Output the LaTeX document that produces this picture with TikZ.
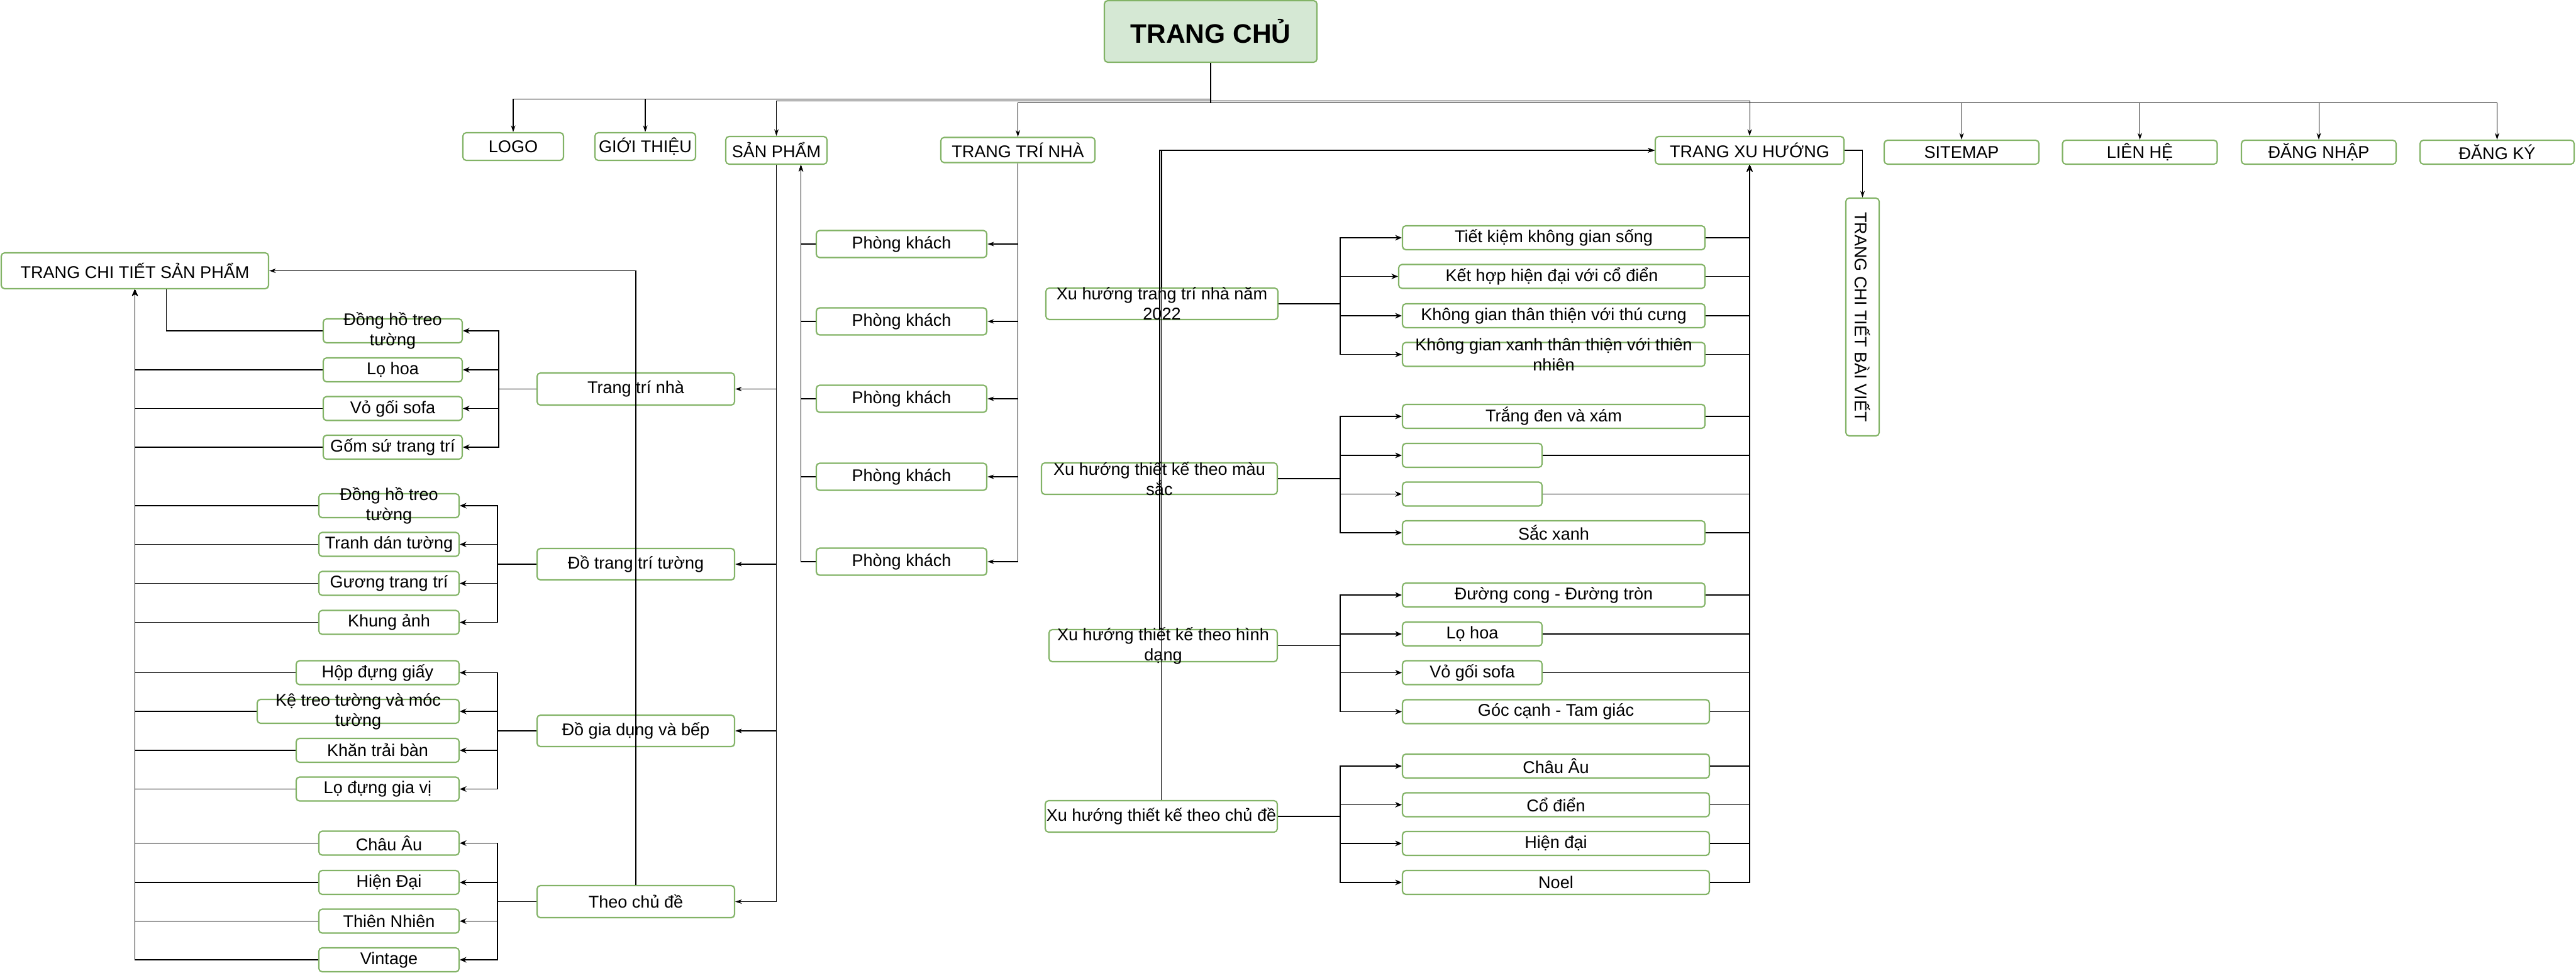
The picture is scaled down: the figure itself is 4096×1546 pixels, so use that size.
\documentclass[tikz,border=0pt]{standalone}
\usepackage{fontspec}
\setmainfont{Liberation Sans}
\usetikzlibrary{arrows.meta}
\definecolor{boxgreen}{HTML}{82B366}
\definecolor{homefill}{HTML}{D5E8D4}

\begin{document}
\begin{tikzpicture}[
		x=0.02cm, y=-0.02cm,
		font=\fontsize{15.4}{18.2}\selectfont,
		pagebox/.style 2 args={rectangle, draw=boxgreen, line width=1.2pt, rounded corners=3pt, fill=white, inner sep=0pt, minimum width=#1*0.02cm, minimum height=#2*0.02cm},
		every label/.append style={align=center},
		link/.style={line width=1.1pt, -{Stealth[length=6pt, width=5pt]}},
		bare_link/.style={line width=1.1pt},
		thin_link/.style={line width=0.6pt, -{Stealth[length=6pt, width=4pt]}}
	]
  \useasboundingbox (0,0) rectangle (4096,1546);
  \node (trang_chu) [pagebox={338}{98}, fill=homefill, font=\fontsize{24.2}{28}\selectfont\bfseries] at (1925,50) {TRANG CHỦ};
  \node (logo) [pagebox={160}{44}] at (816,233) {LOGO};
  \node (gioi_thieu) [pagebox={160}{44}] at (1026,233) {GIỚI THIỆU};
  \node (san_pham) [pagebox={161}{44}] at (1234.5,239) {SẢN PHẨM};
  \node (trang_tri) [pagebox={245}{40}] at (1618.5,238.5) {TRANG TRÍ NHÀ};
  \node (xu_huong) [pagebox={300}{44}] at (2782,239) {TRANG XU HƯỚNG};
  \node (sitemap) [pagebox={246}{38}] at (3119,242) {SITEMAP};
  \node (lien_he) [pagebox={246}{38}] at (3402.5,242) {LIÊN HỆ};
  \node (dang_nhap) [pagebox={246}{38}] at (3687,242) {ĐĂNG NHẬP};
  \node (dang_ky) [pagebox={245}{38}] at (3970.5,242) {ĐĂNG KÝ};
  \node (bai_viet) [pagebox={53}{378}, label={[rotate=-90]center:TRANG CHI TIẾT BÀI VIẾT}] at (2961.5,504) {};
  \node (chi_tiet) [pagebox={425}{57}] at (214.5,430.5) {TRANG CHI TIẾT SẢN PHẨM};

  \node (c_trang_tri) [pagebox={314}{51}] at (1011,618.5) {Trang trí nhà};
  \node (c_tuong) [pagebox={314}{50}] at (1011,897) {Đồ trang trí tường};
  \node (c_gia_dung) [pagebox={314}{50}] at (1011,1162) {Đồ gia dụng và bếp};
  \node (c_chu_de) [pagebox={314}{51}] at (1011,1433.5) {Theo chủ đề};

  \node (i_dong_ho_1) [pagebox={221}{38}, label=center:{Đồng hồ treo\\tường}] at (624.5,526) {};
  \node (i_lo_hoa) [pagebox={221}{38}] at (624.5,588) {Lọ hoa};
  \node (i_vo_goi) [pagebox={221}{38}] at (624.5,649.5) {Vỏ gối sofa};
  \node (i_gom_su) [pagebox={221}{38}] at (624.5,711) {Gốm sứ trang trí};
  \node (i_dong_ho_2) [pagebox={223}{38}, label=center:{Đồng hồ treo\\tường}] at (618.5,804) {};
  \node (i_tranh) [pagebox={223}{38}] at (618.5,865.5) {Tranh dán tường};
  \node (i_guong) [pagebox={223}{38}] at (618.5,927.5) {Gương trang trí};
  \node (i_khung) [pagebox={223}{38}] at (618.5,989.5) {Khung ảnh};
  \node (i_hop) [pagebox={259}{38}] at (600.5,1069.5) {Hộp đựng giấy};
  \node (i_ke) [pagebox={321}{38}, label=center:{Kệ treo tường và móc\\tường}] at (569.5,1131) {};
  \node (i_khan) [pagebox={259}{38}] at (600.5,1193) {Khăn trải bàn};
  \node (i_lo_dung) [pagebox={259}{38}] at (600.5,1254.5) {Lọ đựng gia vị};
  \node (i_chau_au) [pagebox={223}{38}] at (618.5,1340.5) {Châu Âu};
  \node (i_hien_dai) [pagebox={223}{38}] at (618.5,1403) {Hiện Đại};
  \node (i_thien_nhien) [pagebox={223}{38}] at (618.5,1464.5) {Thiên Nhiên};
  \node (i_vintage) [pagebox={223}{38}] at (618.5,1526) {Vintage};

  \node (pk_1) [pagebox={271}{43}] at (1433.5,388) {Phòng khách};
  \node (pk_2) [pagebox={271}{43}] at (1433.5,511) {Phòng khách};
  \node (pk_3) [pagebox={271}{43}] at (1433.5,634) {Phòng khách};
  \node (pk_4) [pagebox={271}{43}] at (1433.5,758) {Phòng khách};
  \node (pk_5) [pagebox={271}{43}] at (1433.5,893) {Phòng khách};

  \node (x_nam) [pagebox={369}{50}, label=center:{Xu hướng trang trí nhà năm\\2022}] at (1847.5,483) {};
  \node (x_mau) [pagebox={375}{50}, label=center:{Xu hướng thiết kế theo màu\\sắc}] at (1843.5,761) {};
  \node (x_hinh) [pagebox={363}{51}, label=center:{Xu hướng thiết kế theo hình\\dạng}] at (1849.5,1026.5) {};
  \node (x_chu_de) [pagebox={369}{50}] at (1846.5,1298) {Xu hướng thiết kế theo chủ đề};

  \node (t_tiet_kiem) [pagebox={481}{38}] at (2470.5,378) {Tiết kiệm không gian sống};
  \node (t_ket_hop) [pagebox={487}{38}] at (2467.5,439.5) {Kết hợp hiện đại với cổ điển};
  \node (t_thu_cung) [pagebox={481}{38}] at (2470.5,502) {Không gian thân thiện với thú cưng};
  \node (t_thien_nhien) [pagebox={481}{38}, label=center:{Không gian xanh thân thiện với thiên\\nhiên}] at (2470.5,563.5) {};
  \node (m_trang_den) [pagebox={481}{38}] at (2470.5,662) {Trắng đen và xám};
  \node (m_trong_1) [pagebox={222}{38}] at (2341,724) {};
  \node (m_trong_2) [pagebox={222}{38}] at (2341,785.5) {};
  \node (m_sac_xanh) [pagebox={481}{38}] at (2470.5,847) {Sắc xanh};
  \node (h_duong_cong) [pagebox={481}{38}] at (2470.5,946) {Đường cong - Đường tròn};
  \node (h_lo_hoa) [pagebox={222}{38}] at (2341,1008) {Lọ hoa};
  \node (h_vo_goi) [pagebox={222}{38}] at (2341,1069.5) {Vỏ gối sofa};
  \node (h_goc_canh) [pagebox={488}{38}] at (2474,1131.5) {Góc cạnh - Tam giác};
  \node (d_chau_au) [pagebox={488}{38}] at (2474,1218) {Châu Âu};
  \node (d_co_dien) [pagebox={488}{38}] at (2474,1279.5) {Cổ điển};
  \node (d_hien_dai) [pagebox={488}{38}] at (2474,1341) {Hiện đại};
  \node (d_noel) [pagebox={488}{38}] at (2474,1403) {Noel};

  \draw[thin_link] (trang_chu.south) -- ++(0,57) -| (logo.north);
  \draw[thin_link] (trang_chu.south) -- ++(0,57) -| (gioi_thieu.north);
  \draw[thin_link] (trang_chu.south) -- ++(0,60) -| (san_pham.north);
  \draw[thin_link] (trang_chu.south) -- ++(0,63) -| (trang_tri.north);
  \draw[thin_link] (trang_chu.south) -- ++(0,60) -| (xu_huong.north);
  \draw[thin_link] (trang_chu.south) -- ++(0,63) -| (sitemap.north);
  \draw[thin_link] (trang_chu.south) -- ++(0,63) -| (lien_he.north);
  \draw[thin_link] (trang_chu.south) -- ++(0,63) -| (dang_nhap.north);
  \draw[thin_link] (trang_chu.south) -- ++(0,63) -| (dang_ky.north);
  \draw[thin_link] (xu_huong.east) -| (bai_viet.north);

  \draw[thin_link] (san_pham.south) |- (c_trang_tri.east);
  \draw[thin_link] (san_pham.south) |- (c_tuong.east);
  \draw[thin_link] (san_pham.south) |- (c_gia_dung.east);
  \draw[thin_link] (san_pham.south) |- (c_chu_de.east);
  \draw[thin_link] (c_chu_de.north) |- (chi_tiet.east);

  \draw[thin_link] (trang_tri.south) |- (pk_1.east);
  \draw[thin_link] (trang_tri.south) |- (pk_2.east);
  \draw[thin_link] (trang_tri.south) |- (pk_3.east);
  \draw[thin_link] (trang_tri.south) |- (pk_4.east);
  \draw[thin_link] (trang_tri.south) |- (pk_5.east);
  \draw[thin_link] (pk_1.west) -| ([xshift=0.78cm]san_pham.south);
  \draw[thin_link] (pk_2.west) -| ([xshift=0.78cm]san_pham.south);
  \draw[thin_link] (pk_3.west) -| ([xshift=0.78cm]san_pham.south);
  \draw[thin_link] (pk_4.west) -| ([xshift=0.78cm]san_pham.south);
  \draw[thin_link] (pk_5.west) -| ([xshift=0.78cm]san_pham.south);

  \draw[link] (c_trang_tri.west) -- ++(-60,0) |- (i_dong_ho_1.east);
  \draw[link] (c_trang_tri.west) -- ++(-60,0) |- (i_lo_hoa.east);
  \draw[link] (c_trang_tri.west) -- ++(-60,0) |- (i_vo_goi.east);
  \draw[link] (c_trang_tri.west) -- ++(-60,0) |- (i_gom_su.east);
  \draw[link] (c_tuong.west) -- ++(-62,0) |- (i_dong_ho_2.east);
  \draw[link] (c_tuong.west) -- ++(-62,0) |- (i_tranh.east);
  \draw[link] (c_tuong.west) -- ++(-62,0) |- (i_guong.east);
  \draw[link] (c_tuong.west) -- ++(-62,0) |- (i_khung.east);
  \draw[link] (c_gia_dung.west) -- ++(-62,0) |- (i_hop.east);
  \draw[link] (c_gia_dung.west) -- ++(-62,0) |- (i_ke.east);
  \draw[link] (c_gia_dung.west) -- ++(-62,0) |- (i_khan.east);
  \draw[link] (c_gia_dung.west) -- ++(-62,0) |- (i_lo_dung.east);
  \draw[link] (c_chu_de.west) -- ++(-62,0) |- (i_chau_au.east);
  \draw[link] (c_chu_de.west) -- ++(-62,0) |- (i_hien_dai.east);
  \draw[link] (c_chu_de.west) -- ++(-62,0) |- (i_thien_nhien.east);
  \draw[link] (c_chu_de.west) -- ++(-62,0) |- (i_vintage.east);

  \draw[bare_link] (i_dong_ho_1.west) -| ([xshift=1cm]chi_tiet.south);
  \draw[link] (i_lo_hoa.west) -| (chi_tiet.south);
  \draw[link] (i_vo_goi.west) -| (chi_tiet.south);
  \draw[link] (i_gom_su.west) -| (chi_tiet.south);
  \draw[link] (i_dong_ho_2.west) -| (chi_tiet.south);
  \draw[link] (i_tranh.west) -| (chi_tiet.south);
  \draw[link] (i_guong.west) -| (chi_tiet.south);
  \draw[link] (i_khung.west) -| (chi_tiet.south);
  \draw[link] (i_hop.west) -| (chi_tiet.south);
  \draw[link] (i_ke.west) -| (chi_tiet.south);
  \draw[link] (i_khan.west) -| (chi_tiet.south);
  \draw[link] (i_lo_dung.west) -| (chi_tiet.south);
  \draw[link] (i_chau_au.west) -| (chi_tiet.south);
  \draw[link] (i_hien_dai.west) -| (chi_tiet.south);
  \draw[link] (i_thien_nhien.west) -| (chi_tiet.south);
  \draw[link] (i_vintage.west) -| (chi_tiet.south);

  \draw[thin_link] (x_nam.north) |- (xu_huong.west);
  \draw[thin_link] (x_mau.north) |- (xu_huong.west);
  \draw[thin_link] ([xshift=-0.11cm]x_hinh.north) |- (xu_huong.west);
  \draw[thin_link] (x_chu_de.north) |- (xu_huong.west);

  \draw[link] (x_nam.east) -- ++(98,0) |- (t_tiet_kiem.west);
  \draw[link] (x_nam.east) -- ++(98,0) |- (t_ket_hop.west);
  \draw[link] (x_nam.east) -- ++(98,0) |- (t_thu_cung.west);
  \draw[link] (x_nam.east) -- ++(98,0) |- (t_thien_nhien.west);
  \draw[link] (x_mau.east) -- ++(99,0) |- (m_trang_den.west);
  \draw[link] (x_mau.east) -- ++(99,0) |- (m_trong_1.west);
  \draw[link] (x_mau.east) -- ++(99,0) |- (m_trong_2.west);
  \draw[link] (x_mau.east) -- ++(99,0) |- (m_sac_xanh.west);
  \draw[link] (x_hinh.east) -- ++(99,0) |- (h_duong_cong.west);
  \draw[link] (x_hinh.east) -- ++(99,0) |- (h_lo_hoa.west);
  \draw[link] (x_hinh.east) -- ++(99,0) |- (h_vo_goi.west);
  \draw[link] (x_hinh.east) -- ++(99,0) |- (h_goc_canh.west);
  \draw[link] (x_chu_de.east) -- ++(99,0) |- (d_chau_au.west);
  \draw[link] (x_chu_de.east) -- ++(99,0) |- (d_co_dien.west);
  \draw[link] (x_chu_de.east) -- ++(99,0) |- (d_hien_dai.west);
  \draw[link] (x_chu_de.east) -- ++(99,0) |- (d_noel.west);

  \draw[link] (t_tiet_kiem.east) -| (xu_huong.south);
  \draw[link] (t_ket_hop.east) -| (xu_huong.south);
  \draw[link] (t_thu_cung.east) -| (xu_huong.south);
  \draw[link] (t_thien_nhien.east) -| (xu_huong.south);
  \draw[link] (m_trang_den.east) -| (xu_huong.south);
  \draw[link] (m_trong_1.east) -| (xu_huong.south);
  \draw[link] (m_trong_2.east) -| (xu_huong.south);
  \draw[link] (m_sac_xanh.east) -| (xu_huong.south);
  \draw[link] (h_duong_cong.east) -| (xu_huong.south);
  \draw[link] (h_lo_hoa.east) -| (xu_huong.south);
  \draw[link] (h_vo_goi.east) -| (xu_huong.south);
  \draw[link] (h_goc_canh.east) -| (xu_huong.south);
  \draw[link] (d_chau_au.east) -| (xu_huong.south);
  \draw[link] (d_co_dien.east) -| (xu_huong.south);
  \draw[link] (d_hien_dai.east) -| (xu_huong.south);
  \draw[link] (d_noel.east) -| (xu_huong.south);
\end{tikzpicture}
\end{document}
